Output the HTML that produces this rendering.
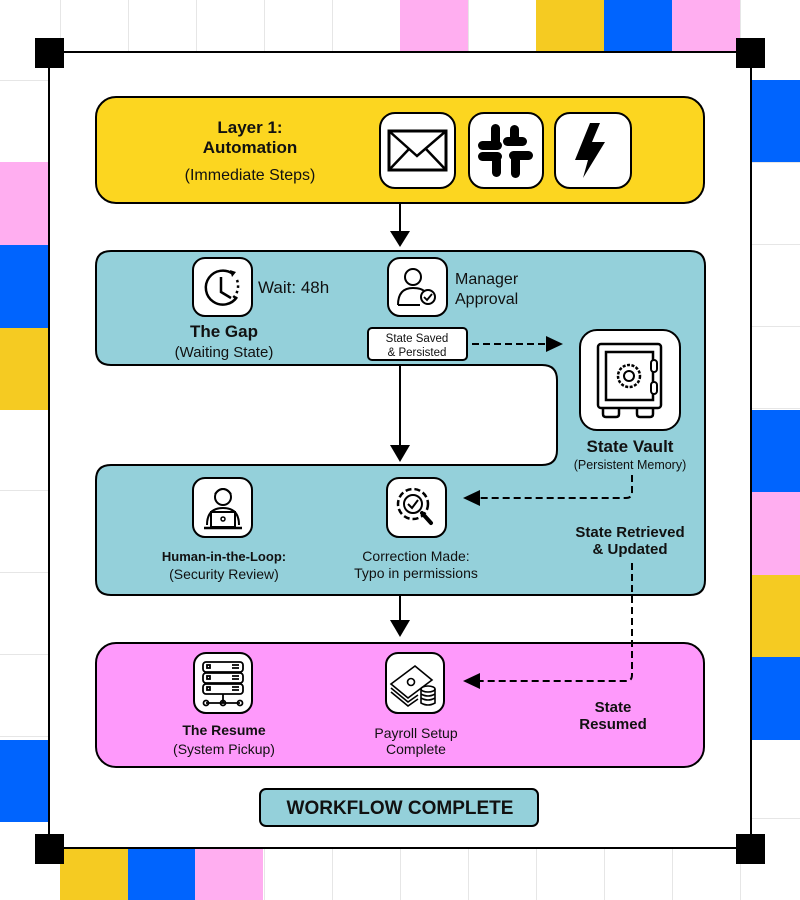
<!DOCTYPE html>
<html><head><meta charset="utf-8"><style>
html,body{margin:0;padding:0;background:#fff;}
svg{display:block;}
text{font-family:"Liberation Sans",sans-serif;fill:#111;}
.b{font-weight:bold;}
</style></head><body>
<svg width="800" height="900" viewBox="0 0 800 900" xmlns="http://www.w3.org/2000/svg">
<defs>
<pattern id="grid" width="68" height="82" patternUnits="userSpaceOnUse" x="60" y="-2">
<path d="M0 0V82M0 0H68" fill="none" stroke="#e6e6e6" stroke-width="2"/>
</pattern>
</defs>
<rect width="800" height="900" fill="#fff"/>
<rect width="800" height="900" fill="url(#grid)"/>
<rect x="400" y="0" width="68" height="52" fill="#ffaef0"/>
<rect x="536" y="0" width="68" height="52" fill="#f5cb22"/>
<rect x="604" y="0" width="68" height="52" fill="#0064fe"/>
<rect x="672" y="0" width="68" height="52" fill="#ffaef0"/>
<rect x="752" y="80" width="48" height="82" fill="#0064fe"/>
<rect x="0" y="162" width="48" height="83" fill="#ffaef0"/>
<rect x="0" y="245" width="48" height="83" fill="#0064fe"/>
<rect x="0" y="328" width="48" height="82" fill="#f5cb22"/>
<rect x="752" y="410" width="48" height="82" fill="#0064fe"/>
<rect x="752" y="492" width="48" height="83" fill="#ffaef0"/>
<rect x="752" y="575" width="48" height="82" fill="#f5cb22"/>
<rect x="752" y="657" width="48" height="83" fill="#0064fe"/>
<rect x="0" y="740" width="48" height="82" fill="#0064fe"/>
<rect x="60" y="848" width="68" height="52" fill="#f5cb22"/>
<rect x="128" y="848" width="67" height="52" fill="#0064fe"/>
<rect x="195" y="848" width="68" height="52" fill="#ffaef0"/>
<rect x="49" y="52" width="702" height="796" fill="#fff" stroke="#000" stroke-width="2"/>
<rect x="35" y="38" width="29" height="30" fill="#000"/>
<rect x="736" y="38" width="29" height="30" fill="#000"/>
<rect x="35" y="834" width="29" height="30" fill="#000"/>
<rect x="736" y="834" width="29" height="30" fill="#000"/>

<rect x="96" y="97" width="608" height="106" rx="20" fill="#fcd620" stroke="#000" stroke-width="2"/>
<text x="250" y="133" text-anchor="middle" class="b" font-size="17">Layer 1:</text>
<text x="250" y="153" text-anchor="middle" class="b" font-size="17">Automation</text>
<text x="250" y="180" text-anchor="middle" font-size="16">(Immediate Steps)</text>
<rect x="380" y="113" width="75" height="75" rx="15" fill="#fff" stroke="#000" stroke-width="2"/>
<rect x="389" y="131" width="57" height="39" fill="none" stroke="#000" stroke-width="3"/>
<path d="M389 131L417 156L446 131M389 170L409 149M446 170L426 149" fill="none" stroke="#000" stroke-width="2.5"/>
<rect x="469" y="113" width="74" height="75" rx="15" fill="#fff" stroke="#000" stroke-width="2"/>
<g fill="#000">
<rect x="491" y="124" width="9" height="24" rx="4.5"/><rect x="478" y="141" width="24" height="9" rx="4.5"/>
<rect x="511" y="152" width="9" height="26" rx="4.5"/><rect x="509" y="151" width="24" height="9" rx="4.5"/>
<rect x="503" y="137" width="24" height="9" rx="4.5"/><rect x="510" y="125" width="9" height="20" rx="4.5"/>
<rect x="478" y="152" width="24" height="9" rx="4.5"/><rect x="492" y="156" width="9" height="21" rx="4.5"/>
</g>
<rect x="555" y="113" width="76" height="75" rx="15" fill="#fff" stroke="#000" stroke-width="2"/>
<path d="M590 123L575 160H588L583 178L605 142H592L600 123Z" fill="#000"/>
<line x1="400" y1="203" x2="400" y2="232" stroke="#000" stroke-width="2"/>
<path d="M390 231H410L400 247Z" fill="#000"/>

<path d="M111 251H690Q705 251 705 266V580Q705 595 690 595H111Q96 595 96 580V480Q96 465 111 465H542Q557 465 557 450V380Q557 365 542 365H111Q96 365 96 350V266Q96 251 111 251Z" fill="#94d0da" stroke="#000" stroke-width="2"/>
<rect x="193" y="258" width="59" height="58" rx="12" fill="#fff" stroke="#000" stroke-width="2"/>
<path d="M233 274A17 17 0 1 0 237 297" fill="none" stroke="#000" stroke-width="2.5"/>
<path d="M237 280A17 17 0 0 1 232 299" fill="none" stroke="#000" stroke-width="2.5" stroke-dasharray="2.5 3"/>
<path d="M221 277V292L231 298" fill="none" stroke="#000" stroke-width="2.5"/>
<path d="M230 270L236 272L232 277Z" fill="#000"/>
<text x="258" y="293" font-size="17">Wait: 48h</text>
<text x="224" y="337" text-anchor="middle" class="b" font-size="17">The Gap</text>
<text x="224" y="357" text-anchor="middle" font-size="15">(Waiting State)</text>
<rect x="388" y="258" width="59" height="58" rx="12" fill="#fff" stroke="#000" stroke-width="2"/>
<circle cx="413" cy="277" r="8" fill="none" stroke="#000" stroke-width="2"/>
<path d="M398 305Q398 288 413 288Q422 288 425 292" fill="none" stroke="#000" stroke-width="2"/>
<path d="M398 305H420" stroke="#000" stroke-width="2"/>
<circle cx="428" cy="297" r="7" fill="#fff" stroke="#000" stroke-width="2"/>
<path d="M424 297L427 300L432 294" fill="none" stroke="#000" stroke-width="1.8"/>
<text x="455" y="284" font-size="16">Manager</text>
<text x="455" y="304" font-size="16">Approval</text>
<rect x="368" y="328" width="99" height="32" rx="4" fill="#fff" stroke="#000" stroke-width="2"/>
<text x="417" y="342" text-anchor="middle" font-size="11.5">State Saved</text>
<text x="417" y="356" text-anchor="middle" font-size="11.5">&amp; Persisted</text>
<line x1="472" y1="344" x2="548" y2="344" stroke="#000" stroke-width="2" stroke-dasharray="7 4"/>
<path d="M546 336V352L563 344Z" fill="#000"/>
<rect x="580" y="330" width="100" height="100" rx="17" fill="#fff" stroke="#000" stroke-width="2"/>
<rect x="598" y="344" width="63" height="64" rx="3" fill="none" stroke="#000" stroke-width="2.5"/>
<rect x="606" y="352" width="47" height="48" fill="none" stroke="#000" stroke-width="2.5"/>
<circle cx="629" cy="376" r="11" fill="none" stroke="#000" stroke-width="2.5" stroke-dasharray="3 1.5"/>
<circle cx="629" cy="376" r="5" fill="none" stroke="#000" stroke-width="2"/>
<rect x="651" y="360" width="6" height="12" rx="3" fill="#fff" stroke="#000" stroke-width="2"/>
<rect x="651" y="382" width="6" height="12" rx="3" fill="#fff" stroke="#000" stroke-width="2"/>
<path d="M603 409V414Q603 417 606 417H616Q619 417 619 414V409M637 409V414Q637 417 640 417H650Q653 417 653 414V409" fill="none" stroke="#000" stroke-width="2.5"/>
<text x="630" y="452" text-anchor="middle" class="b" font-size="17">State Vault</text>
<text x="630" y="469" text-anchor="middle" font-size="12.5">(Persistent Memory)</text>
<path d="M632 475V492Q632 498 626 498H478" fill="none" stroke="#000" stroke-width="2" stroke-dasharray="7 4"/>
<path d="M480 490V506L463 498Z" fill="#000"/>
<line x1="400" y1="365" x2="400" y2="446" stroke="#000" stroke-width="2"/>
<path d="M390 445H410L400 462Z" fill="#000"/>
<rect x="193" y="478" width="59" height="59" rx="12" fill="#fff" stroke="#000" stroke-width="2"/>
<circle cx="223" cy="497" r="8" fill="none" stroke="#000" stroke-width="2"/>
<path d="M215 494Q223 484 231 494" fill="none" stroke="#000" stroke-width="2"/>
<path d="M207 525Q207 508 223 508Q239 508 239 525" fill="none" stroke="#000" stroke-width="2"/>
<rect x="211" y="512" width="24" height="15" fill="#fff" stroke="#000" stroke-width="2"/>
<circle cx="223" cy="519" r="2" fill="none" stroke="#000" stroke-width="1.5"/>
<path d="M204 528H242" stroke="#000" stroke-width="2.5"/>
<text x="224" y="561" text-anchor="middle" class="b" font-size="13">Human-in-the-Loop:</text>
<text x="224" y="579" text-anchor="middle" font-size="14">(Security Review)</text>
<rect x="387" y="478" width="59" height="59" rx="12" fill="#fff" stroke="#000" stroke-width="2"/>
<circle cx="413" cy="504" r="15" fill="none" stroke="#000" stroke-width="2.5" stroke-dasharray="6 3"/>
<circle cx="413" cy="504" r="9" fill="none" stroke="#000" stroke-width="2"/>
<path d="M408 504L412 508L418 500" fill="none" stroke="#000" stroke-width="2"/>
<path d="M422 513L431 523" stroke="#000" stroke-width="4" stroke-linecap="round"/>
<text x="416" y="561" text-anchor="middle" font-size="14">Correction Made:</text>
<text x="416" y="578" text-anchor="middle" font-size="14">Typo in permissions</text>
<text x="630" y="537" text-anchor="middle" class="b" font-size="15">State Retrieved</text>
<text x="630" y="554" text-anchor="middle" class="b" font-size="15">&amp; Updated</text>
<line x1="400" y1="595" x2="400" y2="622" stroke="#000" stroke-width="2"/>
<path d="M390 620H410L400 637Z" fill="#000"/>

<rect x="96" y="643" width="608" height="124" rx="20" fill="#fe99fb" stroke="#000" stroke-width="2"/>
<path d="M632 563V675Q632 681 626 681H478" fill="none" stroke="#000" stroke-width="2" stroke-dasharray="7 4"/>
<path d="M480 673V689L463 681Z" fill="#000"/>
<rect x="194" y="653" width="58" height="60" rx="12" fill="#fff" stroke="#000" stroke-width="2"/>
<g fill="none" stroke="#000" stroke-width="1.8">
<rect x="203" y="662" width="40" height="10" rx="3"/><rect x="203" y="673" width="40" height="10" rx="3"/><rect x="203" y="684" width="40" height="10" rx="3"/>
<rect x="207" y="665" width="3" height="3"/><rect x="207" y="676" width="3" height="3"/><rect x="207" y="687" width="3" height="3"/>
<path d="M232 665H239M232 668H239M232 676H239M232 679H239M232 687H239M232 690H239M223 694V703M206 703H240"/>
<circle cx="206" cy="703" r="2.5"/><circle cx="223" cy="703" r="2.5"/><circle cx="240" cy="703" r="2.5"/>
</g>
<text x="224" y="735" text-anchor="middle" class="b" font-size="14">The Resume</text>
<text x="224" y="754" text-anchor="middle" font-size="14">(System Pickup)</text>
<rect x="386" y="653" width="58" height="60" rx="12" fill="#fff" stroke="#000" stroke-width="2"/>
<g fill="none" stroke="#000" stroke-width="1.6">
<path d="M391 684L415 666L432 680L408 698Z"/><path d="M391 688L408 702L418 695M391 692L408 706L418 699"/>
<circle cx="411" cy="682" r="3.5"/>
<ellipse cx="428" cy="689" rx="7" ry="3"/><path d="M421 689V703Q428 707 435 703V689M421 694Q428 698 435 694M421 698Q428 702 435 698"/>
</g>
<text x="416" y="738" text-anchor="middle" font-size="14">Payroll Setup</text>
<text x="416" y="754" text-anchor="middle" font-size="14">Complete</text>
<text x="613" y="712" text-anchor="middle" class="b" font-size="15">State</text>
<text x="613" y="729" text-anchor="middle" class="b" font-size="15">Resumed</text>

<rect x="260" y="789" width="278" height="37" rx="6" fill="#94d0da" stroke="#000" stroke-width="2"/>
<text x="400" y="814" text-anchor="middle" class="b" font-size="19">WORKFLOW COMPLETE</text>
</svg>
</body></html>
